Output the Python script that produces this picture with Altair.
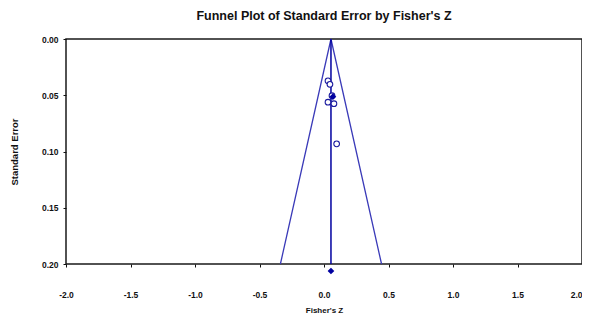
import altair as alt
import pandas as pd

# Study points (open circles)
study_z = [0.031, 0.046, 0.062, 0.031, 0.077, 0.098]
study_se = [0.0372, 0.0403, 0.0504, 0.0562, 0.0575, 0.0932]

# Filled (imputed) point
imputed_z = [0.069]
imputed_se = [0.0513]

# Combined effect
mean_z = 0.054
max_se = 0.20

x_ticks = [-2.0, -1.5, -1.0, -0.5, 0.0, 0.5, 1.0, 1.5, 2.0]
y_ticks = [0.00, 0.05, 0.10, 0.15, 0.20]

studies = pd.DataFrame({"z": study_z, "se": study_se})
imputed = pd.DataFrame({"z": imputed_z, "se": imputed_se})
funnel = pd.DataFrame({
    "z": [mean_z - 1.96 * max_se, mean_z, mean_z + 1.96 * max_se],
    "se": [max_se, 0.0, max_se],
    "o": [0, 1, 2],
})
center = pd.DataFrame({"z": [mean_z, mean_z], "se": [0.0, max_se]})
combined = pd.DataFrame({"z": [mean_z], "se": [max_se]})

xs = alt.Scale(domain=[-2, 2], nice=False, zero=False)
ys = alt.Scale(domain=[0, 0.2], nice=False, reverse=True)

x_enc = alt.X("z:Q", scale=xs, title="Fisher's Z",
              axis=alt.Axis(values=x_ticks,
                            labelExpr="(datum.value < 0 ? '-' : '') + format(abs(datum.value), '.1f')",
                            labelAlign=alt.expr("datum.value >= 2 ? 'right' : 'center'")))
y_enc = alt.Y("se:Q", scale=ys, title="Standard Error",
              axis=alt.Axis(values=y_ticks, format=".2f"))

funnel_line = alt.Chart(funnel).mark_line(color="#3a3ab8", strokeWidth=1.3).encode(
    x=x_enc, y=y_enc, order="o:Q")
center_line = alt.Chart(center).mark_line(color="#0000a0", strokeWidth=1.5).encode(
    x="z:Q", y="se:Q")
pts = alt.Chart(studies).mark_point(shape="circle", filled=True, fill="white",
                                    stroke="#1a1a9e", strokeWidth=1.1, size=32,
                                    opacity=1).encode(x="z:Q", y="se:Q")
imp = alt.Chart(imputed).mark_point(shape="diamond", filled=True, color="#0000a0",
                                    size=45, opacity=1).encode(x="z:Q", y="se:Q")
comb = alt.Chart(combined).mark_point(shape="diamond", filled=True, color="#0000a0",
                                      size=45, opacity=1, yOffset=7).encode(x="z:Q", y="se:Q")

chart = alt.layer(funnel_line, center_line, pts, imp, comb).properties(
    width=516, height=225,
    title=alt.TitleParams("Funnel Plot of Standard Error by Fisher's Z",
                          font="Liberation Sans", fontSize=12.5, fontWeight="bold",
                          color="#111111", anchor="middle", offset=13),
    autosize=alt.AutoSizeParams(type="none"),
    padding={"left": 58, "top": 31, "right": 0, "bottom": 52},
).configure_view(
    stroke="#1a1a1a", strokeWidth=1.5
).configure_axis(
    domain=False, grid=False,
    tickSize=3, tickColor="#111111",
    labelFont="Liberation Sans", labelFontSize=8.5, labelFontWeight="bold",
    labelColor="#111111", labelFlush=False, labelOverlap=False, labelBound=False,
    titleFont="Liberation Sans", titleFontWeight="bold", titleColor="#111111",
).configure_axisX(
    labelPadding=23, titlePadding=8, titleFontSize=8,
).configure_axisY(
    labelPadding=5, titleFontSize=9.5, titlePadding=22,
)

chart.save("out.html", embed_options={"renderer": "svg", "actions": False})
